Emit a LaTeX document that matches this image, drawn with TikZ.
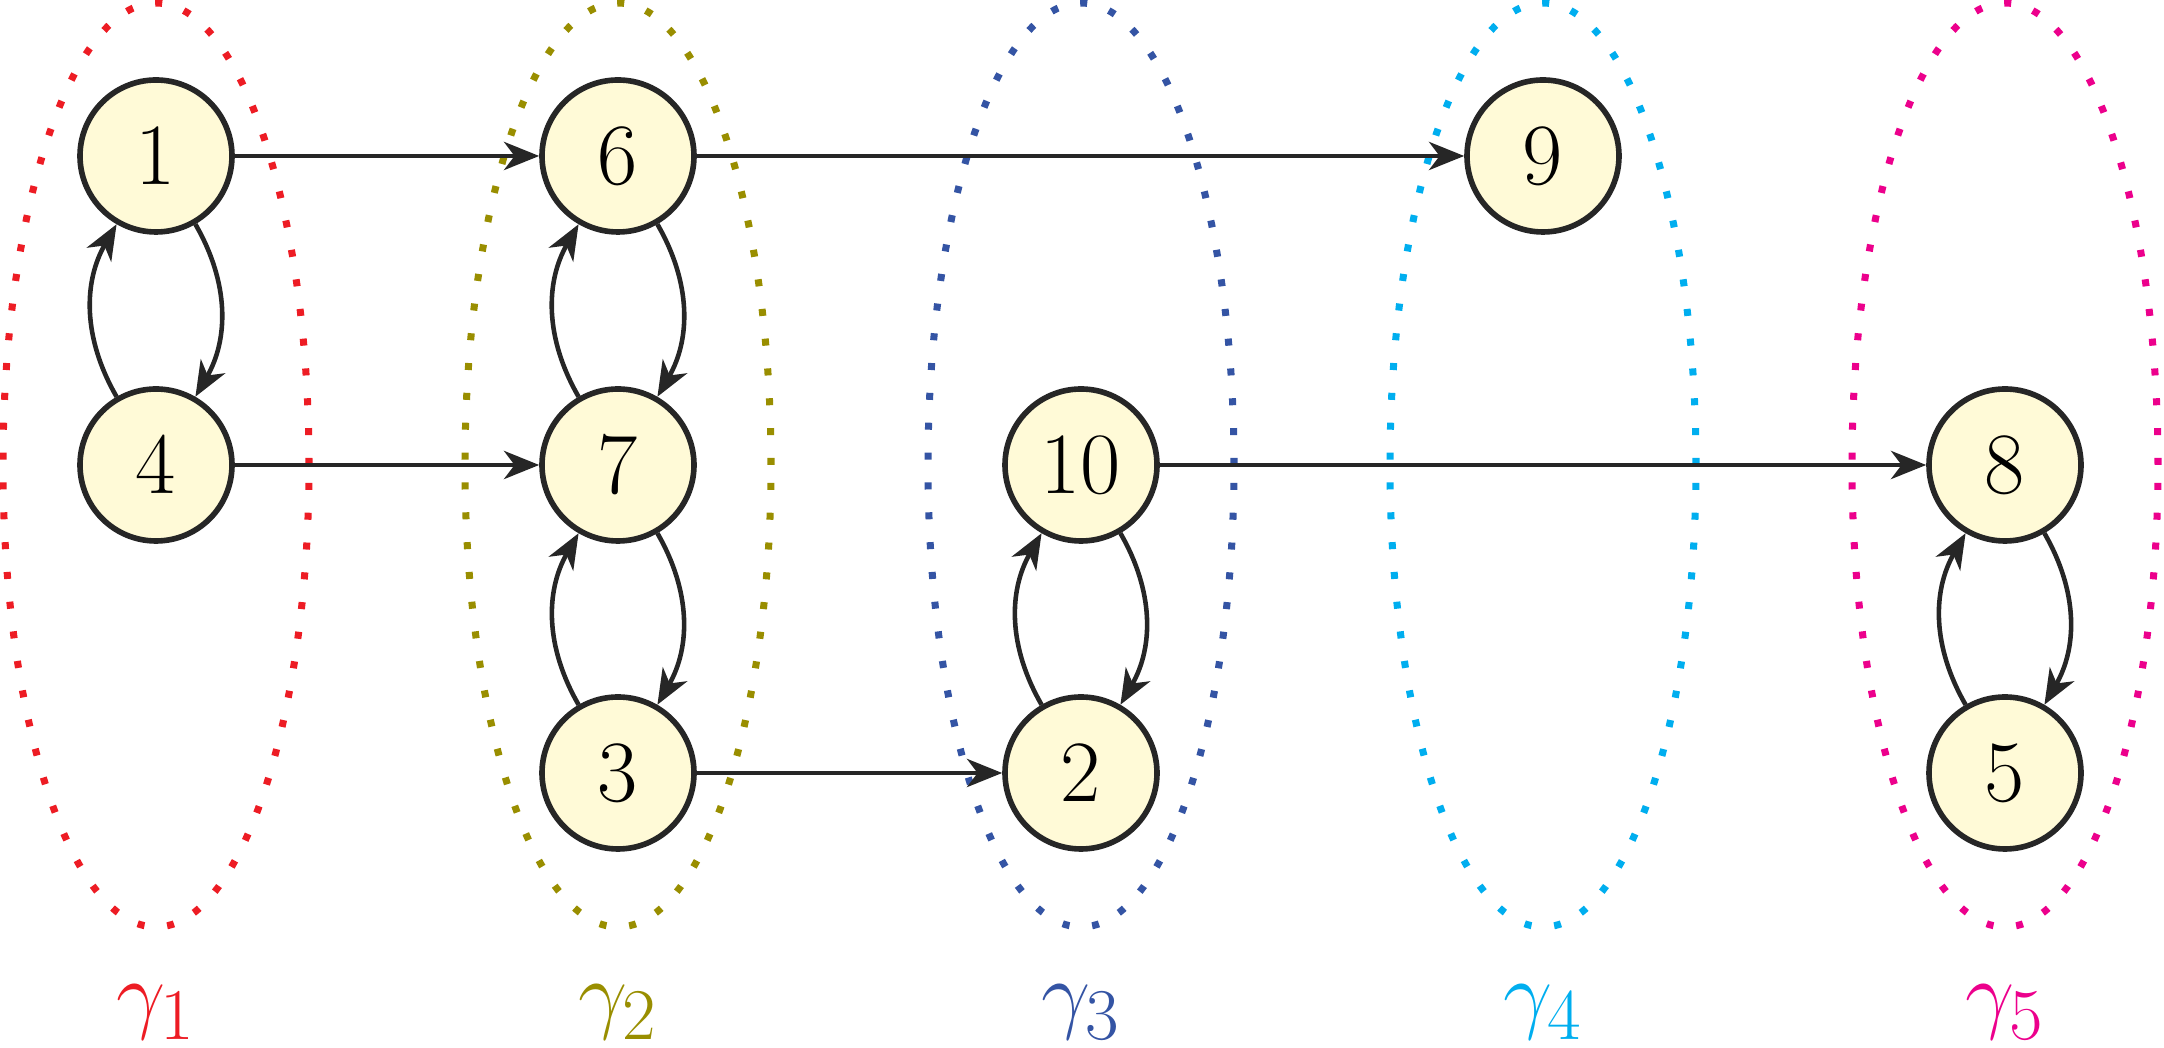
\documentclass[tikz,border=0pt]{standalone}
\usepackage{amsfonts, amssymb, amsmath}
\usepackage{tikz}
\usetikzlibrary{arrows.meta}

\definecolor{gred}{RGB}{237,28,36}
\definecolor{golive}{RGB}{153,142,0}
\definecolor{gblue}{RGB}{52,84,164}
\definecolor{gcyan}{RGB}{0,174,239}
\definecolor{gmagenta}{RGB}{236,0,140}
\definecolor{vfill}{RGB}{255,250,215}

\begin{document}
\begin{tikzpicture}[
    vert/.style={circle, draw=black!85, line width=1.6pt, fill=vfill, minimum size=1.52cm, inner sep=0pt, font=\Huge},
    edge/.style={line width=1.3pt, draw=black!85, -{Stealth[length=10pt, width=8pt, inset=3pt]}},
    group/.style={line width=2pt, dash pattern=on 2pt off 6.5pt},
    glabel/.style={font=\Huge, inner sep=0pt}
]
    \useasboundingbox (0, 0) rectangle (21.64, 10.48);

    % Groups
    \draw[group, gred] (1.56, 5.83) ellipse (1.53 and 4.62);
    \draw[group, golive] (6.18, 5.83) ellipse (1.53 and 4.62);
    \draw[group, gblue] (10.81, 5.83) ellipse (1.53 and 4.62);
    \draw[group, gcyan] (15.43, 5.83) ellipse (1.53 and 4.62);
    \draw[group, gmagenta] (20.05, 5.83) ellipse (1.53 and 4.62);

    % Vertices
    \node[vert] (v1) at (1.56, 8.92) {$1$};
    \node[vert] (v4) at (1.56, 5.83) {$4$};
    \node[vert] (v6) at (6.18, 8.92) {$6$};
    \node[vert] (v7) at (6.18, 5.83) {$7$};
    \node[vert] (v3) at (6.18, 2.75) {$3$};
    \node[vert] (v10) at (10.81, 5.83) {$10$};
    \node[vert] (v2) at (10.81, 2.75) {$2$};
    \node[vert] (v9) at (15.43, 8.92) {$9$};
    \node[vert] (v8) at (20.05, 5.83) {$8$};
    \node[vert] (v5) at (20.05, 2.75) {$5$};

    % Edges between groups
    \draw[edge] (v1) -- (v6);
    \draw[edge] (v6) -- (v9);
    \draw[edge] (v4) -- (v7);
    \draw[edge] (v3) -- (v2);
    \draw[edge] (v10) -- (v8);

    % Edges inside groups
    \draw[edge] (v1) to[bend left=30] (v4);
    \draw[edge] (v4) to[bend left=30] (v1);
    \draw[edge] (v6) to[bend left=30] (v7);
    \draw[edge] (v7) to[bend left=30] (v6);
    \draw[edge] (v7) to[bend left=30] (v3);
    \draw[edge] (v3) to[bend left=30] (v7);
    \draw[edge] (v10) to[bend left=30] (v2);
    \draw[edge] (v2) to[bend left=30] (v10);
    \draw[edge] (v8) to[bend left=30] (v5);
    \draw[edge] (v5) to[bend left=30] (v8);

    % Labels
    \node[glabel, gred] (g1) at (1.56, 0.36) {$\gamma_1$};
    \node[glabel, golive] (g2) at (6.18, 0.36) {$\gamma_2$};
    \node[glabel, gblue] (g3) at (10.81, 0.36) {$\gamma_3$};
    \node[glabel, gcyan] (g4) at (15.43, 0.36) {$\gamma_4$};
    \node[glabel, gmagenta] (g5) at (20.05, 0.36) {$\gamma_5$};
\end{tikzpicture}
\end{document}
